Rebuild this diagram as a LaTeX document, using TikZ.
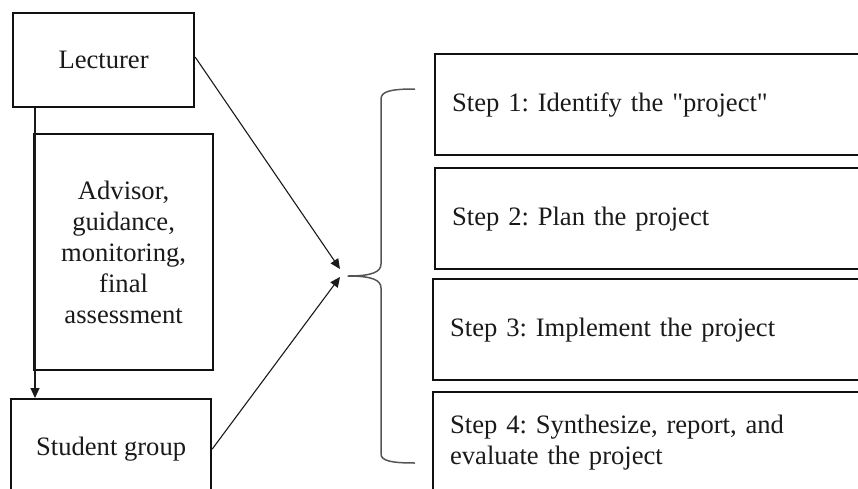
\documentclass[tikz,border=0pt]{standalone}
\usepackage{fontspec}
\setmainfont{Liberation Serif}[Ligatures=TeXOff]
\usetikzlibrary{positioning, arrows.meta}
\definecolor{ink}{HTML}{1A1A1A}
\definecolor{rule}{HTML}{111111}
\definecolor{brace}{HTML}{555555}
\tikzset{
  every node/.style = {font=\fontsize{13.3}{15.5}\selectfont, text=ink},
  pjbase/.style   = {draw=rule, line width=1.1pt, fill=white, align=center, inner sep=0pt},
  pjactor/.style  = {pjbase, anchor=north west},
  pjstep/.style   = {pjbase, anchor=north west, align=left, inner xsep=8.5pt,
                     text width=203pt, minimum height=50.5pt},
  pjgo/.style     = {-{Triangle[length=5pt,width=4.5pt]}, draw=ink, line width=0.55pt},
  pjbrace/.style  = {draw=brace, line width=0.75pt, line join=round},
}
\frenchspacing
\begin{document}
\begin{tikzpicture}[x=0.5pt, y=-0.5pt]
\useasboundingbox (0,0) rectangle (858,488);

% who takes part
\node[pjactor, minimum width=90.5pt, minimum height=47pt] (lect) at (12,12) {Lecturer};
\node[pjactor, minimum width=89.5pt, minimum height=118pt] (advi) at (33,133)
  {Advisor,\\guidance,\\monitoring,\\final\\assessment};
\node[pjactor, minimum width=100pt, minimum height=50pt] (stud) at (10,398) {Student group};

% the four steps
\node[pjstep] (s1) at (434,53)  {Step 1: Identify the "project"};
\node[pjstep] (s2) at (434,167) {Step 2: Plan the project};
\node[pjstep] (s3) at (432,278) {Step 3: Implement the project};
\node[pjstep] (s4) at (432,391) {Step 4: Synthesize, report, and\\evaluate the project};

\coordinate (hubA) at (340,269);
\coordinate (hubB) at (340,277);
\coordinate (brtop) at (415,89);
\coordinate (brtip) at (348,276);
\coordinate (brbot) at (415,463);

\draw[pjgo] ([xshift=11.5pt]lect.south west) -- ([xshift=11.5pt]lect.south west |- stud.north);
\draw[pjgo] ([yshift=1.5pt]lect.east) -- (hubA);
\draw[pjgo] (stud.east) -- (hubB);

% brace over the steps
\draw[pjbrace] (brtop) .. controls (392,89) and (381,91) .. (381,99) -- (381,264)
  .. controls (381,272) and (372,276) .. (brtip)
  .. controls (372,276) and (381,280) .. (381,288) -- (381,454)
  .. controls (381,461) and (392,463) .. (brbot);
\end{tikzpicture}
\end{document}
